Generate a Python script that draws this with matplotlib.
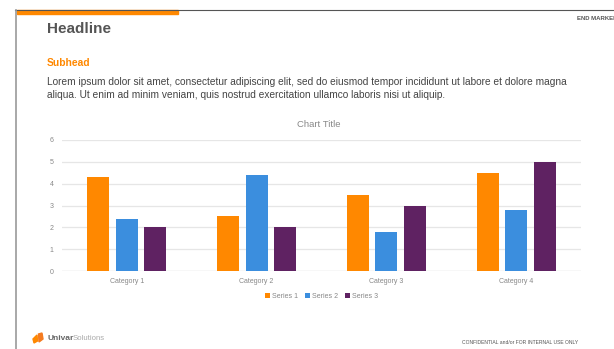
import matplotlib
matplotlib.use("Agg")
import matplotlib.pyplot as plt
import numpy as np
from matplotlib.patches import Rectangle, Polygon
from matplotlib.lines import Line2D

categories = ["Category 1", "Category 2", "Category 3", "Category 4"]
series_names = ["Series 1", "Series 2", "Series 3"]
series1 = [4.3, 2.5, 3.5, 4.5]
series2 = [2.4, 4.4, 1.8, 2.8]
series3 = [2.0, 2.0, 3.0, 5.0]
yticks = [0, 1, 2, 3, 4, 5, 6]
colors = ["#FF8800", "#3B8EDE", "#5F2262"]

W, H = 614, 349
fig = plt.figure(figsize=(W / 100, H / 100), dpi=100)
plt.rcParams['font.family'] = ['Liberation Sans', 'DejaVu Sans']

def fx(x):
    return x / W

def fy(y):
    return 1 - y / H

# frame lines
fig.add_artist(Line2D([fx(15), fx(614)], [fy(9.5), fy(9.5)], color="#555555", lw=0.8))
fig.add_artist(Line2D([fx(15.5), fx(15.5)], [fy(9.5), fy(349)], color="#999999", lw=1.2))
fig.add_artist(Rectangle((fx(17), fy(13.5)), fx(178) - fx(17), fy(10) - fy(13.5),
                         color="#FF8800", transform=fig.transFigure))

fig.text(fx(47), fy(29), "Headline", fontsize=11, fontweight="bold", color="#555555",
         ha="left", va="center")
fig.text(fx(577), fy(18), "END MARKER", fontsize=4.3, fontweight="bold", color="#555555",
         ha="left", va="center")
fig.text(fx(47), fy(62.5), "Subhead", fontsize=7.4, fontweight="bold", color="#FF8800",
         ha="left", va="center")
fig.text(fx(47), fy(82), "Lorem ipsum dolor sit amet, consectetur adipiscing elit, sed do eiusmod tempor incididunt ut labore et dolore magna",
         fontsize=7.3, color="#444444", ha="left", va="center")
fig.text(fx(47), fy(95), "aliqua. Ut enim ad minim veniam, quis nostrud exercitation ullamco laboris nisi ut aliquip.",
         fontsize=7.3, color="#444444", ha="left", va="center")

# chart
ax = fig.add_axes([fx(62), fy(271), fx(581) - fx(62), fy(140) - fy(271)])
x = np.arange(len(categories))
bw = 0.17
off = 0.22
for i, (vals, c, name) in enumerate(zip([series1, series2, series3], colors, series_names)):
    ax.bar(x + (i - 1) * off, vals, width=bw, color=c, label=name, zorder=3)
ax.set_xlim(-0.5, 3.5)
ax.set_ylim(0, 6)
ax.set_yticks(yticks)
ax.set_xticks(x)
ax.set_xticklabels(categories)
ax.tick_params(axis="both", length=0, labelsize=5, labelcolor="#888888")
ax.tick_params(axis="y", pad=6)
ax.tick_params(axis="x", pad=5)
ax.grid(axis="y", color="#E6E6E6", lw=0.9, zorder=0)
for s in ax.spines.values():
    s.set_visible(False)
ax.axhline(0, color="#E0E0E0", lw=0.9, zorder=2)

fig.text(fx(319), fy(125), "Chart Title", fontsize=6.8, color="#888888", ha="center", va="center")
leg = ax.legend(loc="center", bbox_to_anchor=(0.5, (296 - 271) / -(131)), ncol=3, frameon=False,
                fontsize=5, handlelength=0.7, handleheight=0.7, handletextpad=0.3, columnspacing=1.0)
for t in leg.get_texts():
    t.set_color("#888888")

# logo
fig.add_artist(Polygon([[fx(33), fy(339)], [fx(37), fy(335)], [fx(37.5), fy(341)], [fx(34), fy(343)]],
                       closed=True, color="#FF8800", transform=fig.transFigure))
fig.add_artist(Polygon([[fx(38.5), fy(334)], [fx(42), fy(333)], [fx(43), fy(339)], [fx(39), fy(342)]],
                       closed=True, color="#F47B20", transform=fig.transFigure))
fig.text(fx(47), fy(338.5), "Univar", fontsize=6.0, color="#666666", fontweight="bold",
         ha="left", va="center")
fig.text(fx(72.5), fy(338.5), "Solutions", fontsize=5.6, color="#AAAAAA", ha="left", va="center")

fig.text(fx(462), fy(343), "CONFIDENTIAL and/or FOR INTERNAL USE ONLY", fontsize=3.65,
         color="#555555", ha="left", va="center")

fig.savefig("out.png", dpi=100)
